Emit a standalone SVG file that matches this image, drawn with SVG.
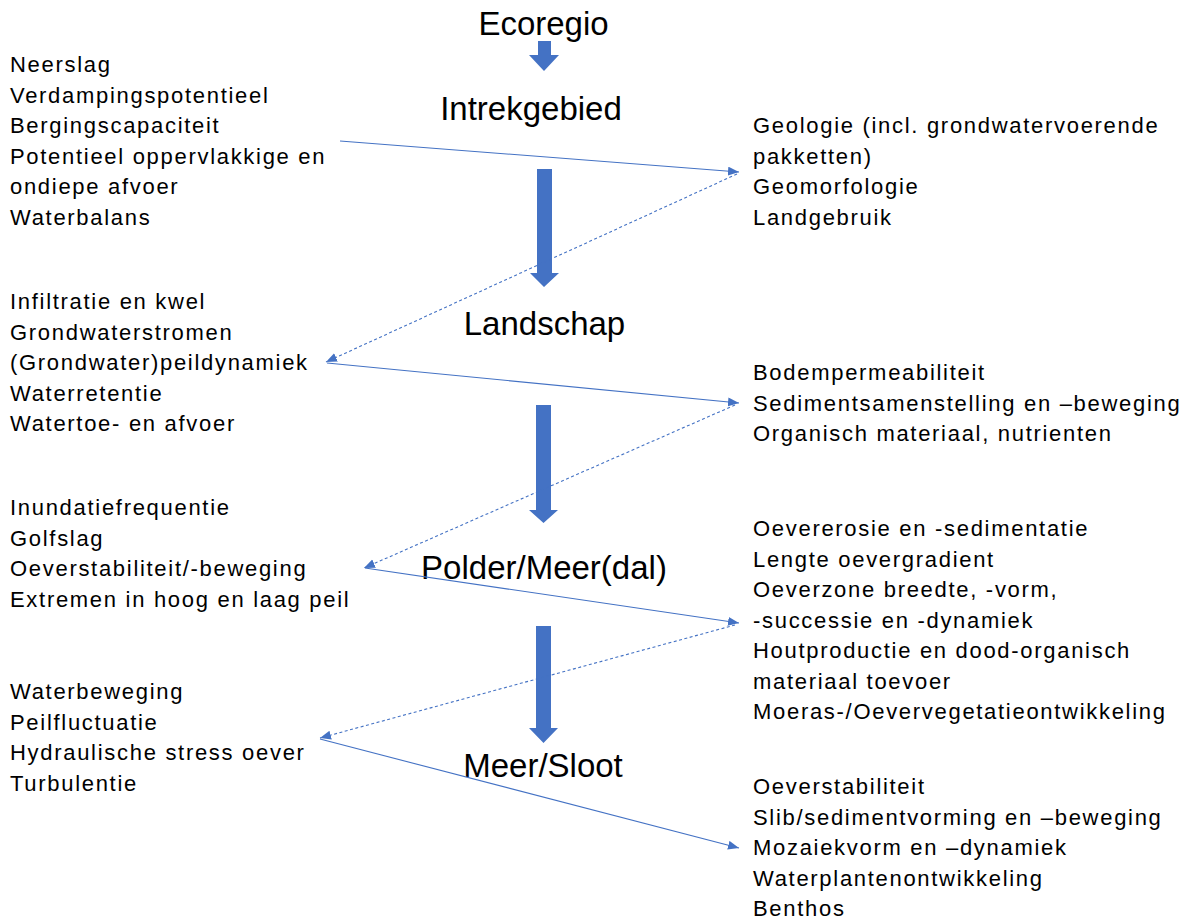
<svg xmlns="http://www.w3.org/2000/svg" width="1191" height="923" viewBox="0 0 1191 923">
<defs>
<style>
.lvl{font-family:"Liberation Sans",Arial,sans-serif;font-size:33px;fill:#000;text-anchor:middle}
.lst{font-family:"Liberation Sans",Arial,sans-serif;font-size:22px;letter-spacing:1.7px;fill:#000}
.big{fill:#4472C4}
.con{stroke:#4472C4;stroke-width:1.1;fill:none;marker-end:url(#ah)}
.dash{stroke-dasharray:3 2.5}
</style>
<marker id="ah" markerUnits="userSpaceOnUse" markerWidth="12" markerHeight="10" refX="11" refY="4.5" orient="auto">
<path d="M0,0 L11,4.5 L0,9 z" fill="#4472C4"/>
</marker>
</defs>
<rect width="1191" height="923" fill="#fff"/>

<g id="ecoregio"><text class="lvl" x="543.5" y="35">Ecoregio</text></g>
<g id="intrekgebied"><text class="lvl" x="531" y="120">Intrekgebied</text></g>
<g id="landschap"><text class="lvl" x="544.5" y="335">Landschap</text></g>
<g id="polder"><text class="lvl" x="544" y="579">Polder/Meer(dal)</text></g>
<g id="meersloot"><text class="lvl" x="543" y="777">Meer/Sloot</text></g>

<g id="flow-arrows">
<path class="big" d="M538,41 H551 V55 H559 L544,71 L529,55 H538 Z"/>
<path class="big" d="M537,169 H552 V273 H559 L544,287 L530,273 H537 Z"/>
<path class="big" d="M536,405 H551 V510 H558 L543.5,523 L529,510 H536 Z"/>
<path class="big" d="M536,626 H551 V728 H558 L543.5,743 L529,728 H536 Z"/>
</g>

<g id="left1">
<text class="lst" x="10" y="72">Neerslag</text>
<text class="lst" x="10" y="102.5">Verdampingspotentieel</text>
<text class="lst" x="10" y="133">Bergingscapaciteit</text>
<text class="lst" x="10" y="163.5">Potentieel oppervlakkige en</text>
<text class="lst" x="10" y="194">ondiepe afvoer</text>
<text class="lst" x="10" y="224.5">Waterbalans</text>
</g>
<g id="right1">
<text class="lst" x="753" y="133">Geologie (incl. grondwatervoerende</text>
<text class="lst" x="753" y="163.5">pakketten)</text>
<text class="lst" x="753" y="194">Geomorfologie</text>
<text class="lst" x="753" y="224.5">Landgebruik</text>
</g>
<g id="left2">
<text class="lst" x="10" y="309">Infiltratie en kwel</text>
<text class="lst" x="10" y="339.5">Grondwaterstromen</text>
<text class="lst" x="10" y="370">(Grondwater)peildynamiek</text>
<text class="lst" x="10" y="400.5">Waterretentie</text>
<text class="lst" x="10" y="431">Watertoe- en afvoer</text>
</g>
<g id="right2">
<text class="lst" x="753" y="380">Bodempermeabiliteit</text>
<text class="lst" x="753" y="410.5">Sedimentsamenstelling en –beweging</text>
<text class="lst" x="753" y="441">Organisch materiaal, nutrienten</text>
</g>
<g id="left3">
<text class="lst" x="10" y="515">Inundatiefrequentie</text>
<text class="lst" x="10" y="545.5">Golfslag</text>
<text class="lst" x="10" y="576">Oeverstabiliteit/-beweging</text>
<text class="lst" x="10" y="606.5">Extremen in hoog en laag peil</text>
</g>
<g id="right3">
<text class="lst" x="753" y="536">Oevererosie en -sedimentatie</text>
<text class="lst" x="753" y="566.5">Lengte oevergradient</text>
<text class="lst" x="753" y="597">Oeverzone breedte, -vorm,</text>
<text class="lst" x="753" y="627.5">-successie en -dynamiek</text>
<text class="lst" x="753" y="658">Houtproductie en dood-organisch</text>
<text class="lst" x="753" y="688.5">materiaal toevoer</text>
<text class="lst" x="753" y="719">Moeras-/Oevervegetatieontwikkeling</text>
</g>
<g id="left4">
<text class="lst" x="10" y="699">Waterbeweging</text>
<text class="lst" x="10" y="729.5">Peilfluctuatie</text>
<text class="lst" x="10" y="760">Hydraulische stress oever</text>
<text class="lst" x="10" y="790.5">Turbulentie</text>
</g>
<g id="right4">
<text class="lst" x="753" y="794">Oeverstabiliteit</text>
<text class="lst" x="753" y="824.5">Slib/sedimentvorming en –beweging</text>
<text class="lst" x="753" y="855">Mozaiekvorm en –dynamiek</text>
<text class="lst" x="753" y="885.5">Waterplantenontwikkeling</text>
<text class="lst" x="753" y="916">Benthos</text>
</g>

<g id="connectors">
<path class="con" d="M340,141 L739,172"/>
<path class="con dash" d="M737,174 L326,362"/>
<path class="con" d="M327,363 L739,403"/>
<path class="con dash" d="M735,405 L364,568"/>
<path class="con" d="M365,568 L739,623"/>
<path class="con dash" d="M735,625 L320,738"/>
<path class="con" d="M320,739 L739,848"/>
</g>
</svg>
